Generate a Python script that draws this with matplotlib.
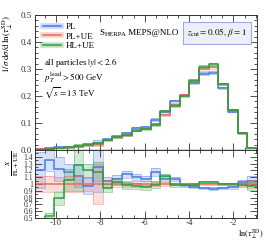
import numpy as np
import matplotlib
matplotlib.use('Agg')
import matplotlib.pyplot as plt
from matplotlib.lines import Line2D
from matplotlib.ticker import MultipleLocator

plt.rcParams['font.family'] = ['Liberation Serif', 'DejaVu Serif']
plt.rcParams['mathtext.fontset'] = 'stix'

# 23 gleich breite Bins in ln(tau_perp^SD)
bin_edges = np.linspace(-10.94, -0.94, 24)

# PL+UE (Referenz), normierte Verteilung
ref_vals = [0.004, 0.006, 0.008, 0.010, 0.013, 0.018, 0.022, 0.038, 0.047, 0.055, 0.074, 0.080,
            0.095, 0.130, 0.168, 0.205, 0.258, 0.300, 0.308, 0.245, 0.150, 0.062, 0.007]
ref_err = [0.12, 0.12, 0.10, 0.12, 0.12, 0.10, 0.30, 0.06, 0.05, 0.05, 0.04, 0.04,
           0.03, 0.03, 0.02, 0.02, 0.02, 0.02, 0.02, 0.02, 0.02, 0.03, 0.06]

# Verhaeltnis PL / PL+UE
pl_ratio = [1.20, 1.35, 1.22, 1.18, 1.12, 0.97, 1.25, 1.05, 1.08, 1.14, 1.10, 1.08,
            1.18, 1.08, 1.07, 0.99, 0.96, 0.94, 0.93, 0.94, 0.95, 1.03, 1.05]
pl_err = [0.22, 0.12, 0.15, 0.10, 0.15, 0.12, 0.30, 0.05, 0.05, 0.05, 0.04, 0.04,
          0.05, 0.04, 0.03, 0.02, 0.02, 0.02, 0.02, 0.02, 0.02, 0.03, 0.06]

# Verhaeltnis HL+UE / PL+UE
hl_ratio = [0.30, 0.53, 0.79, 1.06, 1.28, 1.20, 1.18, 0.94, 1.03, 0.98, 0.97, 0.95,
            0.99, 1.12, 0.98, 0.98, 0.99, 1.03, 1.03, 1.00, 1.00, 0.99, 0.97]
hl_err = [0.20, 0.08, 0.12, 0.15, 0.30, 0.08, 0.12, 0.06, 0.05, 0.05, 0.04, 0.04,
          0.05, 0.03, 0.03, 0.02, 0.02, 0.02, 0.02, 0.02, 0.02, 0.03, 0.06]

labels = ['PL', 'PL+UE', 'HL+UE']
colors = ['#4a78e8', '#ee6a5a', '#2e9e3e']


def draw_hist(ax, edges, vals, err, color, lw=1.1):
    vals = np.asarray(vals)
    lo = vals * (1 - np.asarray(err))
    hi = vals * (1 + np.asarray(err))
    ext = lambda a: np.append(a, a[-1])
    ax.fill_between(edges, ext(lo), ext(hi), step='post', color=color, alpha=0.22, lw=0)
    ax.step(edges, ext(lo), where='post', color=color, alpha=0.45, lw=0.6)
    ax.step(edges, ext(hi), where='post', color=color, alpha=0.45, lw=0.6)
    ax.step(edges, ext(vals), where='post', color=color, lw=lw)


ref = np.array(ref_vals)
series_main = [ref * np.array(pl_ratio), ref, ref * np.array(hl_ratio)]
series_ratio = [np.array(pl_ratio), np.ones_like(ref), np.array(hl_ratio)]
series_err = [pl_err, ref_err, hl_err]

fig = plt.figure(figsize=(2.66, 2.4), dpi=100)
ax = fig.add_axes([0.1316, 0.375, 0.8346, 0.5625])
rax = fig.add_axes([0.1316, 0.0917, 0.8346, 0.2833], sharex=ax)

for vals, r, err, c in zip(series_main, series_ratio, series_err, colors):
    draw_hist(ax, bin_edges, vals, err, c)
    draw_hist(rax, bin_edges, r, err, c)

ax.set_xlim(bin_edges[0], bin_edges[-1])
ax.set_ylim(0, 0.5)
ax.yaxis.set_major_locator(MultipleLocator(0.1))
ax.yaxis.set_minor_locator(MultipleLocator(0.02))
ax.xaxis.set_major_locator(MultipleLocator(2))
ax.xaxis.set_minor_locator(MultipleLocator(0.5))
ax.tick_params(labelbottom=False)

rax.set_ylim(0.5, 1.5)
rax.set_yticks([0.5, 0.6, 0.7, 0.8, 0.9, 1.0, 1.1, 1.2, 1.3, 1.4])
rax.set_yticklabels(['0.5', '0.6', '0.7', '0.8', '0.9', '1', '1.1', '1.2', '1.3', '1.4'])
rax.yaxis.set_minor_locator(MultipleLocator(0.05))
rax.set_xticks([-10, -8, -6, -4, -2])
rax.set_xticklabels(['-10', '-8', '-6', '-4', '-2'])

for a in (ax, rax):
    a.tick_params(which='both', direction='in', top=True, right=True, width=0.6, colors='#333333')
    a.tick_params(which='major', length=5, labelsize=6.5, pad=2)
    a.tick_params(which='minor', length=2.5)
    for s in a.spines.values():
        s.set_linewidth(0.7)
        s.set_color('#333333')
rax.tick_params(axis='y', labelsize=5.5, pad=1.5)
rax.tick_params(axis='x', pad=1.0)
ax.spines['bottom'].set_linewidth(1.0)

ax.set_ylabel(r'$1/\sigma\;\mathrm{d}\sigma/\mathrm{d}\,\ln(\tau_\perp^{\mathrm{SD}})$',
              fontsize=6.5, y=1.0, ha='right', labelpad=4)
rax.set_ylabel(r'$\frac{X}{\mathrm{PL+UE}}$', fontsize=7, y=1.0, ha='right', labelpad=2)
rax.set_xlabel(r'$\ln(\tau_\perp^{\mathrm{SD}})$', fontsize=6, ha='right', va='top')
rax.xaxis.set_label_coords(1.03, -0.13)

# Legende
handles = [(Line2D([], [], color=c, lw=4, alpha=0.3), Line2D([], [], color=c, lw=1.1)) for c in colors]
ax.legend(handles, labels, loc='upper left', bbox_to_anchor=(0.02, 0.97), frameon=False,
          fontsize=6.5, handlelength=2.0, labelspacing=0.15, handletextpad=0.5, borderaxespad=0)

ax.text(0.04, 0.65, r'all particles $|y| < 2.6$', transform=ax.transAxes, fontsize=6.5, va='center')
ax.text(0.04, 0.535, r'$p_T^{\mathrm{lead}} > 500$ GeV', transform=ax.transAxes, fontsize=6.5, va='center')
ax.text(0.04, 0.42, r'$\sqrt{s} = 13$ TeV', transform=ax.transAxes, fontsize=6.5, va='center')

t1 = ax.text(0.29, 0.835, 'S', transform=ax.transAxes, fontsize=6.5, va='bottom')
t2 = ax.annotate('HERPA', xy=(1, 0), xycoords=t1, fontsize=5, va='bottom')
ax.annotate(' MEPS@NLO', xy=(1, 0), xycoords=t2, fontsize=6.5, va='bottom')

ax.text(0.82, 0.867, r'$z_{\mathrm{cut}} = 0.05,\, \beta = 1$', transform=ax.transAxes,
        fontsize=6.5, ha='center', va='center',
        bbox=dict(boxstyle='square,pad=0.5', facecolor='#eeeef8', edgecolor='#99aaee', lw=0.8))

plt.savefig('out.png', dpi=100)
